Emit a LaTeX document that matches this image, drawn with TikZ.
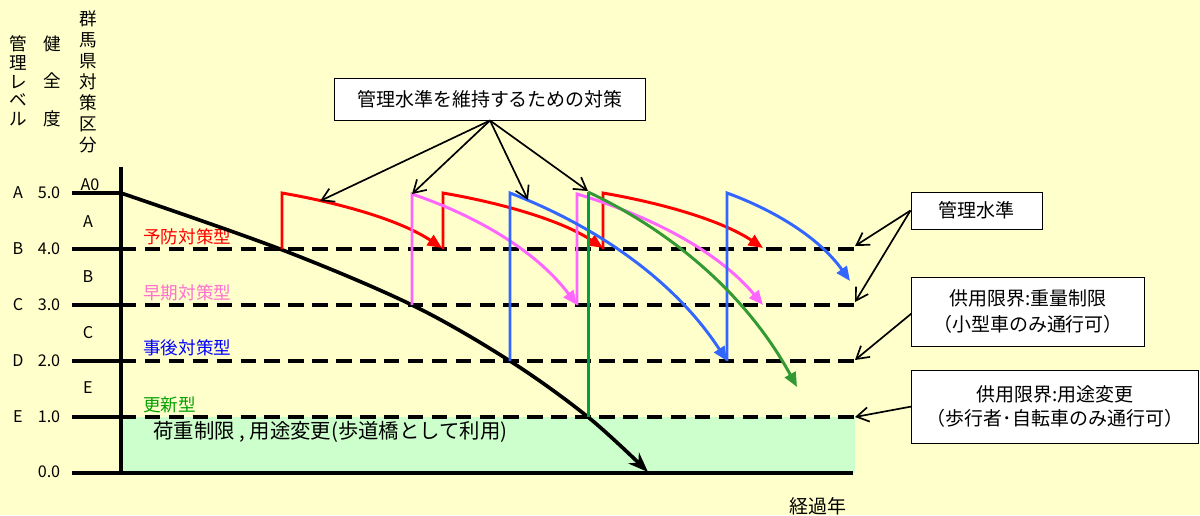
\documentclass[tikz,border=0pt]{standalone}
\usepackage{fontspec}
\setmainfont{Noto Sans CJK JP}
\usetikzlibrary{arrows.meta}

\definecolor{bgyellow}{HTML}{FFFFCC}
\definecolor{limitfill}{HTML}{CCFFCC}
\definecolor{prevred}{HTML}{FF0000}
\definecolor{earlypink}{HTML}{FF66FF}
\definecolor{earlytext}{HTML}{FF70D0}
\definecolor{postblue}{HTML}{3366FF}
\definecolor{posttext}{HTML}{0000FF}
\definecolor{renewgreen}{HTML}{00A040}
\definecolor{renewcurve}{HTML}{339933}
\definecolor{renewtext}{HTML}{00A000}

\newcommand\fsaxis{\fontsize{11.5pt}{13pt}\selectfont}
\newcommand\fstype{\fontsize{12.5pt}{15pt}\selectfont}
\newcommand\fsbox{\fontsize{13.5pt}{16pt}\selectfont}

\tikzset{
  levelline/.style={line width=2.8pt, dash pattern=on 11pt off 6pt},
  tickline/.style={line width=2.2pt},
  sawline/.style={line width=2.1pt, -{Triangle[length=3.6mm,width=3mm]}},
  notebox/.style={draw, line width=0.7pt, fill=white, align=center, inner sep=0pt},
  pointarrow/.style={line width=1.2pt, -{Straight Barb[length=3mm,width=3.6mm]}},
  txt/.style={inner sep=0pt},
}

\begin{document}
\begin{tikzpicture}[x=0.025cm, y=-0.025cm]
\fill[bgyellow] (0,0) rectangle (1200,515);
\useasboundingbox (0,0) rectangle (1200,515);

% headings
\node (col-level) at (18,81) [txt, align=center, font=\fontsize{12.5pt}{13.3pt}\selectfont]{管\\理\\レ\\ベ\\ル};
\node (col-health) at (52,81) [txt, align=center, font=\fontsize{12.5pt}{26.7pt}\selectfont]{健\\全\\度};
\node (col-gunma) at (88,82) [txt, align=center, font=\fontsize{12.5pt}{14.9pt}\selectfont]{群\\馬\\県\\対\\策\\区\\分};

% limit zone
\fill[limitfill] (121,417) rectangle (855,473);
\node (zone) at (153,432) [txt, anchor=west, font=\fontsize{14.5pt}{16pt}\selectfont]{荷重制限 , 用途変更(歩道橋として利用)};

% levels
\draw[tickline] (72,193) -- (121,193);
\foreach \yy in {249,305,361,417}{
  \draw[tickline] (72,\yy) -- (121,\yy);
  \draw[levelline] (121,\yy) -- (855,\yy);
}
\draw[line width=2.8pt] (72,473) -- (853,473);
\draw[line width=3.2pt] (121,167) -- (121,474.5);

\node (lA) at (18,193) [txt, font=\fsaxis]{A};
\node (lB) at (18,249) [txt, font=\fsaxis]{B};
\node (lC) at (18,305) [txt, font=\fsaxis]{C};
\node (lD) at (18,361) [txt, font=\fsaxis]{D};
\node (lE) at (18,417) [txt, font=\fsaxis]{E};
\node (v5) at (49,193) [txt, font=\fsaxis]{5.0};
\node (v4) at (49,249) [txt, font=\fsaxis]{4.0};
\node (v3) at (49,305) [txt, font=\fsaxis]{3.0};
\node (v2) at (49,361) [txt, font=\fsaxis]{2.0};
\node (v1) at (49,417) [txt, font=\fsaxis]{1.0};
\node (v0) at (49,472) [txt, font=\fsaxis]{0.0};

\node (zA0) at (90,185) [txt, font=\fsaxis]{A0};
\node (zA) at (88,222) [txt, font=\fsaxis]{A};
\node (zB) at (88,277) [txt, font=\fsaxis]{B};
\node (zC) at (88,333) [txt, font=\fsaxis]{C};
\node (zE) at (88,388) [txt, font=\fsaxis]{E};

\node (tPrev) at (143,237) [txt, anchor=west, font=\fstype, text=prevred]{予防対策型};
\node (tEarly) at (143,293) [txt, anchor=west, font=\fstype, text=earlytext]{早期対策型};
\node (tPost) at (143,348) [txt, anchor=west, font=\fstype, text=posttext]{事後対策型};
\node (tRenew) at (143,405) [txt, anchor=west, font=\fstype, text=renewtext]{更新型};

\node (years) at (818,506) [txt, font=\fsbox]{経過年};

% deterioration without measures
\draw[line width=2.6pt, -{Stealth[length=5mm,width=3.8mm]}] plot[smooth, tension=0.55]
  coordinates {(121,193) (280,249) (412,305) (510,361) (588,417) (648,472)};

% measures
\draw[sawline, prevred] (282,249) -- (282,193) .. controls (340,203) and (400,220) .. (442,248);
\draw[sawline, prevred] (443,249) -- (443,193) .. controls (501,203) and (561,220) .. (603,248);
\draw[sawline, prevred] (603,249) -- (603,193) .. controls (661,203) and (721,220) .. (763,248);

\draw[sawline, earlypink] (412,305) -- (412,194) .. controls (471,214) and (534,248) .. (577,305);
\draw[sawline, earlypink] (577,305) -- (577,194) .. controls (644,214) and (715,248) .. (763,305);

\draw[sawline, postblue] (510,361) -- (510,193) .. controls (588,223) and (671,275) .. (727,361);
\draw[sawline, postblue] (727,361) -- (727,193) .. controls (771,209) and (818,236) .. (850,281);

\draw[line width=2.4pt, renewgreen] (588.5,417) -- (588.5,192);
\draw[sawline, renewcurve] (588,192) .. controls (663,227) and (743,288) .. (797,387);

% notes
\node (measures) at (490,99) [notebox, minimum width=7.75cm, minimum height=1.05cm, font=\fsbox]{管理水準を維持するための対策};
\node (mgmt) at (976.5,210.5) [notebox, minimum width=3.275cm, minimum height=0.925cm, font=\fsbox]{管理水準};
\node (limitA) at (1028,311.5) [notebox, minimum width=5.8cm, minimum height=1.725cm, font=\fontsize{13.5pt}{19pt}\selectfont]{供用限界:重量制限\\（小型車のみ通行可）};
\node (limitB) at (1055,406.5) [notebox, minimum width=7.15cm, minimum height=1.825cm, font=\fontsize{13.5pt}{17pt}\selectfont]{供用限界:用途変更\\（歩行者･自転車のみ通行可）};

\coordinate (onRed) at (320,201);
\coordinate (onPink) at (412,194);
\coordinate (onBlue) at (528,200);
\coordinate (onGreen) at (588,191);
\coordinate (end4) at (855,246);
\coordinate (end3) at (855,302);
\coordinate (end2) at (855,360);
\coordinate (end1) at (855,417);

\draw[pointarrow] (measures.south) -- (onRed);
\draw[pointarrow] (measures.south) -- (onPink);
\draw[pointarrow] (measures.south) -- (onBlue);
\draw[pointarrow] (measures.south) -- (onGreen);
\draw[pointarrow] (mgmt.west) -- (end4);
\draw[pointarrow] (mgmt.west) -- (end3);
\draw[pointarrow] ([yshift=-0.05cm]limitA.west) -- (end2);
\draw[pointarrow] (limitB.west) -- (end1);
\end{tikzpicture}
\end{document}
